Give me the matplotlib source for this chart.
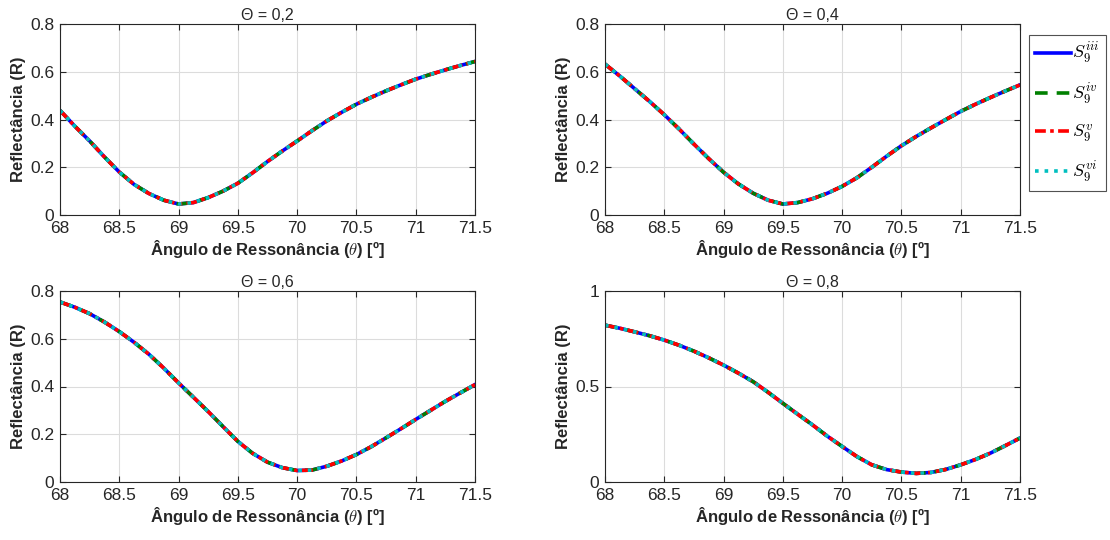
import numpy as np
import matplotlib
matplotlib.use("Agg")
import matplotlib.pyplot as plt

plt.rcParams['font.family'] = ['Liberation Sans', 'DejaVu Sans']
plt.rcParams['mathtext.fontset'] = 'cm'

# angle (deg), sampled every 0.125
theta = np.arange(68.0, 71.5001, 0.125)

# reflectance
r_02 = [0.438, 0.372, 0.31, 0.243, 0.18, 0.128, 0.09, 0.062, 0.046, 0.052,
        0.073, 0.10, 0.133, 0.177, 0.224, 0.268, 0.31, 0.353, 0.394, 0.43,
        0.464, 0.493, 0.52, 0.545, 0.569, 0.589, 0.608, 0.626, 0.643]
r_04 = [0.632, 0.582, 0.529, 0.476, 0.42, 0.36, 0.297, 0.236, 0.179, 0.13,
        0.091, 0.062, 0.046, 0.052, 0.068, 0.091, 0.12, 0.156, 0.20, 0.246,
        0.29, 0.329, 0.365, 0.40, 0.434, 0.464, 0.492, 0.519, 0.545]
r_06 = [0.754, 0.732, 0.705, 0.67, 0.63, 0.585, 0.535, 0.477, 0.415, 0.355,
        0.295, 0.232, 0.17, 0.12, 0.083, 0.06, 0.048, 0.05, 0.066, 0.088,
        0.115, 0.148, 0.185, 0.223, 0.262, 0.30, 0.338, 0.373, 0.408]
r_08 = [0.821, 0.805, 0.786, 0.766, 0.743, 0.716, 0.685, 0.65, 0.612, 0.57,
        0.525, 0.47, 0.412, 0.355, 0.299, 0.24, 0.186, 0.133, 0.09, 0.065,
        0.052, 0.045, 0.05, 0.066, 0.09, 0.118, 0.151, 0.19, 0.23]

titles = ['Θ = 0,2', 'Θ = 0,4', 'Θ = 0,6', 'Θ = 0,8']
curves = [r_02, r_04, r_06, r_08]
ylims = [0.8, 0.8, 0.8, 1.0]

labels = ['$S^{iii}_{9}$', '$S^{iv}_{9}$', '$S^{v}_{9}$', '$S^{vi}_{9}$']
styles = [('b', '-'), ('g', (0, (3.5, 2.5))), ('r', (0, (3, 1.2, 1, 1.2))), ('c', ':')]

W, H = 1110, 540
fig = plt.figure(figsize=(W / 100, H / 100), dpi=100)
boxes = [(60, 24, 475, 215), (605, 24, 1020, 215),
         (60, 291, 475, 482), (605, 291, 1020, 482)]

ink = '#262626'
for i, (x0, y0, x1, y1) in enumerate(boxes):
    ax = fig.add_axes([x0 / W, 1 - y1 / H, (x1 - x0) / W, (y1 - y0) / H])
    for (c, ls), lab in zip(styles, labels):
        ax.plot(theta, curves[i], color=c, linestyle=ls, lw=2.6, label=lab)
    ax.set_xlim(68, 71.5)
    ax.set_ylim(0, ylims[i])
    ax.set_xticks([68, 68.5, 69, 69.5, 70, 70.5, 71, 71.5])
    ax.set_xticklabels(['68', '68.5', '69', '69.5', '70', '70.5', '71', '71.5'])
    if ylims[i] == 1.0:
        ax.set_yticks([0, 0.5, 1])
        ax.set_yticklabels(['0', '0.5', '1'])
    else:
        ax.set_yticks([0, 0.2, 0.4, 0.6, 0.8])
        ax.set_yticklabels(['0', '0.2', '0.4', '0.6', '0.8'])
    ax.grid(True, color='#dcdcdc', lw=0.8)
    ax.tick_params(direction='in', labelsize=12.5, colors=ink, length=4, pad=4,
                   top=True, right=True)
    for s in ax.spines.values():
        s.set_color(ink)
        s.set_linewidth(0.8)
    ax.set_title(titles[i], fontsize=11.5, color=ink, pad=3)
    ax.set_xlabel('Ângulo de Ressonância ($\\theta$) [º]', fontsize=12,
                  fontweight='bold', color=ink, labelpad=2)
    ax.set_ylabel('Reflectância (R)', fontsize=12, fontweight='bold',
                  color=ink, labelpad=3)
    if i == 1:
        handles, labs = ax.get_legend_handles_labels()

leg = fig.legend(handles, labs, loc='upper left',
                 bbox_to_anchor=(1029 / W, 1 - 35 / H),
                 fontsize=13, handlelength=2.0, handletextpad=0.05,
                 borderpad=0.35, labelspacing=0.85, fancybox=False,
                 borderaxespad=0)
leg.get_frame().set_edgecolor(ink)
leg.get_frame().set_linewidth(0.8)

fig.savefig('out.png', dpi=100)
